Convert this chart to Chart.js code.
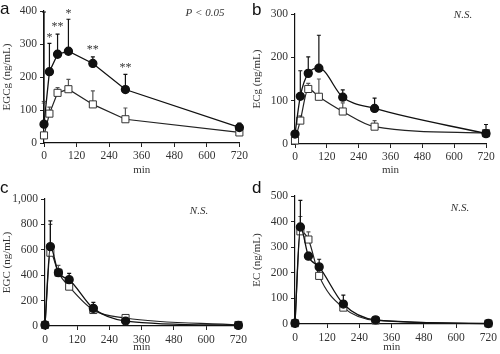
<!DOCTYPE html>
<html>
<head>
<meta charset="utf-8">
<script src="https://cdn.jsdelivr.net/npm/chart.js@4.4.1/dist/chart.umd.min.js"></script>
<style>
  body { margin: 0; background: #fff; }
  #wrap { position: relative; width: 500px; height: 354px; }
  canvas { position: absolute; }
</style>
</head>
<body>
<div id="wrap">
  <canvas id="pa" width="250" height="177" style="left:0;top:0"></canvas>
  <canvas id="pb" width="250" height="177" style="left:250px;top:0"></canvas>
  <canvas id="pc" width="250" height="177" style="left:0;top:177px"></canvas>
  <canvas id="pd" width="250" height="177" style="left:250px;top:177px"></canvas>
</div>
<script>
// sampling times (min) and x tick labels
const minutes = [0, 20, 50, 90, 180, 300, 720];
const xTicks = [0, 120, 240, 360, 480, 600, 720];

// a: EGCg
const egcgFilled = [57, 216, 269, 278, 241, 162, 47];
const egcgFilledSd = [340, 86, 61, 97, 20, 46, 13];
const egcgOpen = [23, 89, 152, 163, 117, 72, 32];
const egcgOpenSd = [0, 20, 16, 30, 41, 34, 3];
const egcgStars = ['*', '*', '**', '*', '**', '**', ''];
const egcgStarY = [125, 327, 360, 400, 292, 236, 0];

// b: ECg
const ecgFilled = [23, 110, 163, 175, 108, 82, 24];
const ecgFilledSd = [0, 59, 38, 76, 17, 24, 21];
const ecgOpen = [8, 54, 127, 109, 75, 40, 25];
const ecgOpenSd = [0, 11, 13, 41, 20, 14, 5];

// c: EGC
const egcFilled = [8, 625, 420, 365, 139, 39, 5];
const egcFilledSd = [0, 202, 20, 49, 47, 11, 0];
const egcOpen = [8, 577, 420, 310, 126, 63, 8];
const egcOpenSd = [0, 223, 58, 20, 24, 12, 0];

// d: EC
const ecFilled = [3, 379, 265, 223, 78, 16, 2];
const ecFilledSd = [0, 104, 15, 30, 35, 6, 0];
const ecOpen = [3, 362, 330, 188, 64, 14, 2];
const ecOpenSd = [0, 58, 30, 22, 16, 5, 0];

const serif = 'Liberation Serif';
const textColor = '#333';
const extrasById = {};

// error bars (upper only) under the markers, labels on top
const extras = {
  id: 'extras',
  beforeDatasetsDraw(chart) {
    const e = extrasById[chart.canvas.id];
    const ctx = chart.ctx, xs = chart.scales.x, ys = chart.scales.y;
    ctx.save();
    e.errors.forEach(function(err) {
      ctx.strokeStyle = err.color;
      ctx.lineWidth = 1.2;
      minutes.forEach(function(m, i) {
        if (!err.sd[i]) return;
        const x = xs.getPixelForValue(m);
        const y0 = ys.getPixelForValue(err.values[i]);
        const y1 = ys.getPixelForValue(err.values[i] + err.sd[i]);
        ctx.beginPath();
        ctx.moveTo(x, y0);
        ctx.lineTo(x, y1);
        ctx.moveTo(x - 2, y1);
        ctx.lineTo(x + 2, y1);
        ctx.stroke();
      });
    });
    ctx.restore();
  },
  afterDraw(chart) {
    const e = extrasById[chart.canvas.id];
    const ctx = chart.ctx, xs = chart.scales.x, ys = chart.scales.y;
    ctx.save();
    ctx.fillStyle = '#111';
    ctx.textAlign = 'left';
    ctx.textBaseline = 'middle';
    ctx.font = '17px "Liberation Sans"';
    ctx.fillText(e.letter, e.letterX, e.letterY);
    ctx.fillStyle = textColor;
    ctx.textAlign = 'center';
    ctx.font = 'italic 11px "' + serif + '"';
    ctx.fillText(e.note, e.noteX, e.noteY);
    if (e.stars) {
      ctx.font = '12px "' + serif + '"';
      e.stars.forEach(function(s, i) {
        if (!s) return;
        ctx.fillText(s, xs.getPixelForValue(minutes[i]), ys.getPixelForValue(e.starY[i]) + 3);
      });
    }
    ctx.restore();
  }
};

function makePanel(id, p) {
  extrasById[id] = {
    errors: [
      { values: p.open, sd: p.openSd, color: '#555' },
      { values: p.filled, sd: p.filledSd, color: '#111' }
    ],
    letter: p.letter, letterX: p.letterX, letterY: p.letterY,
    note: p.note, noteX: p.noteX, noteY: p.noteY,
    stars: p.stars, starY: p.starY
  };
  const W = 250, H = 177, a = p.area;
  const interp = p.smooth ? 'monotone' : 'default';
  new Chart(document.getElementById(id), {
    type: 'line',
    data: {
      datasets: [{
        data: minutes.map(function(m, i) { return { x: m, y: p.filled[i] }; }),
        borderColor: '#111',
        borderWidth: 1.3,
        pointStyle: 'circle',
        pointRadius: 4,
        pointBackgroundColor: '#111',
        pointBorderColor: '#111',
        cubicInterpolationMode: interp,
        clip: false
      }, {
        data: minutes.map(function(m, i) { return { x: m, y: p.open[i] }; }),
        borderColor: '#222',
        borderWidth: 1.2,
        pointStyle: 'rect',
        pointRadius: 5,
        pointBorderWidth: 1,
        pointBackgroundColor: '#fff',
        pointBorderColor: '#333',
        cubicInterpolationMode: interp,
        clip: false
      }]
    },
    options: {
      responsive: false,
      animation: false,
      layout: { padding: { top: a.top, right: W - a.right, left: 0, bottom: 0 } },
      plugins: { legend: { display: false }, tooltip: { enabled: false } },
      scales: {
        x: {
          type: 'linear', min: 0, max: 720,
          afterFit: function(s) { s.height = H - a.bottom; },
          afterBuildTicks: function(s) { s.ticks = xTicks.map(function(v) { return { value: v }; }); },
          ticks: { font: { family: serif, size: 11.5 }, color: textColor, padding: p.xPad, maxRotation: 0 },
          grid: { drawOnChartArea: false, tickLength: 4, color: '#222' },
          border: { color: '#111', width: 1.2 },
          title: { display: true, text: 'min', font: { family: serif, size: 11 }, color: textColor, padding: 0 }
        },
        y: {
          min: 0, max: p.yMax,
          afterFit: function(s) { s.width = a.left; },
          ticks: { stepSize: p.yStep, font: { family: serif, size: 11.5 }, color: textColor, padding: 3 },
          grid: { drawOnChartArea: false, tickLength: 4, color: '#222' },
          border: { color: '#111', width: 1.2 },
          title: { display: true, text: p.yTitle, font: { family: serif, size: 11 }, color: textColor, padding: { top: 1, bottom: 0 } }
        }
      }
    },
    plugins: [extras]
  });
}

makePanel('pa', {
  filled: egcgFilled, filledSd: egcgFilledSd, open: egcgOpen, openSd: egcgOpenSd,
  yMax: 400, yStep: 100, yTitle: 'EGCg (ng/mL)', smooth: false,
  area: { left: 44, right: 240, top: 11, bottom: 143 }, xPad: 2,
  letter: 'a', letterX: 0, letterY: 9,
  note: 'P < 0.05', noteX: 205, noteY: 13,
  stars: egcgStars, starY: egcgStarY
});
makePanel('pb', {
  filled: ecgFilled, filledSd: ecgFilledSd, open: ecgOpen, openSd: ecgOpenSd,
  yMax: 300, yStep: 100, yTitle: 'ECg (ng/mL)', smooth: true,
  area: { left: 45, right: 236, top: 14, bottom: 144 }, xPad: 2,
  letter: 'b', letterX: 2, letterY: 10,
  note: 'N.S.', noteX: 213, noteY: 15
});
makePanel('pc', {
  filled: egcFilled, filledSd: egcFilledSd, open: egcOpen, openSd: egcOpenSd,
  yMax: 1000, yStep: 200, yTitle: 'EGC (ng/mL)', smooth: true,
  area: { left: 45, right: 240, top: 22, bottom: 149 }, xPad: 3,
  letter: 'c', letterX: 0, letterY: 11,
  note: 'N.S.', noteX: 199, noteY: 34
});
makePanel('pd', {
  filled: ecFilled, filledSd: ecFilledSd, open: ecOpen, openSd: ecOpenSd,
  yMax: 500, yStep: 100, yTitle: 'EC (ng/mL)', smooth: true,
  area: { left: 45, right: 241, top: 19, bottom: 147 }, xPad: 3,
  letter: 'd', letterX: 2, letterY: 11,
  note: 'N.S.', noteX: 210, noteY: 31
});
</script>
</body>
</html>
